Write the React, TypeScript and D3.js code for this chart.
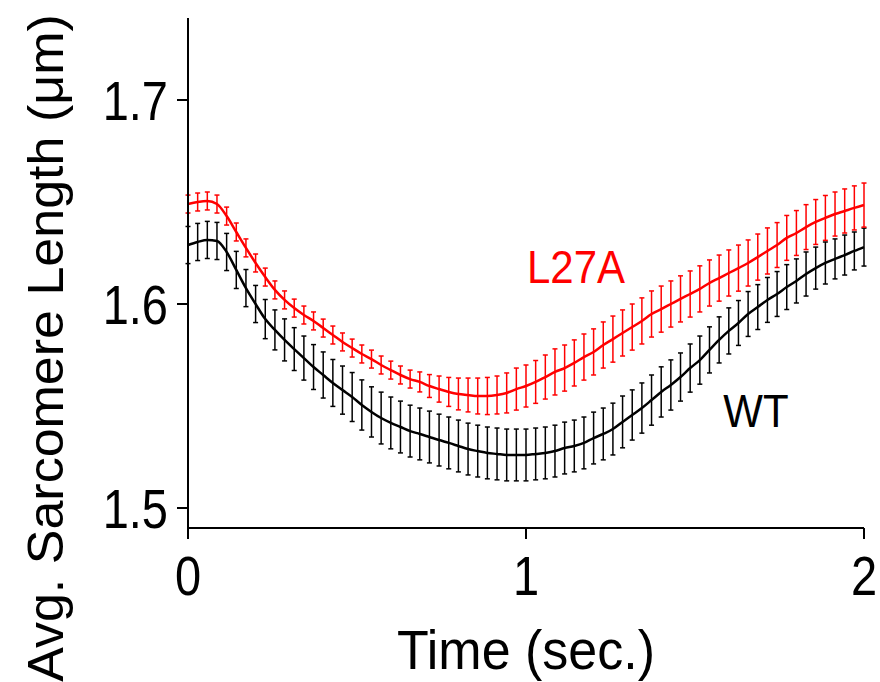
import React from "react";
import * as d3 from "d3";

// Time grid: 71 samples from 0 to 2 s
const nSamples = 71;
const tMax = 2;
const times: number[] = d3.range(nSamples).map((i) => (i * tMax) / (nSamples - 1));

const wtMean: number[] = [
  1.6289, 1.6304, 1.6314, 1.6309, 1.6255, 1.6167, 1.6078, 1.6, 1.5926, 1.5873,
  1.5824, 1.5779, 1.5735, 1.5691, 1.5652, 1.5613, 1.5578, 1.5544, 1.5505, 1.5471,
  1.5441, 1.5417, 1.5397, 1.5377, 1.5363, 1.5348, 1.5333, 1.5319, 1.5304, 1.5289,
  1.5279, 1.527, 1.5265, 1.526, 1.526, 1.526, 1.5265, 1.527, 1.5279, 1.5294,
  1.5304, 1.5319, 1.5343, 1.5363, 1.5387, 1.5422, 1.5456, 1.549, 1.5529, 1.5569,
  1.5603, 1.5642, 1.5686, 1.5725, 1.5775, 1.5824, 1.5868, 1.5907, 1.5951, 1.5985,
  1.602, 1.6049, 1.6083, 1.6113, 1.6147, 1.6176, 1.6201, 1.6221, 1.624, 1.626,
  1.6279,
];

const wtErr: number[] = [
  0.0091, 0.0091, 0.0091, 0.0091, 0.0091, 0.0091, 0.0091, 0.0091, 0.0096, 0.0098,
  0.0103, 0.0105, 0.0108, 0.011, 0.0113, 0.0115, 0.0118, 0.012, 0.0123, 0.0123,
  0.0127, 0.0127, 0.0127, 0.0127, 0.0127, 0.0127, 0.0127, 0.0127, 0.0127, 0.0127,
  0.0127, 0.0127, 0.0127, 0.0127, 0.0127, 0.0127, 0.0127, 0.0127, 0.0127, 0.0127,
  0.0127, 0.0127, 0.0127, 0.0127, 0.0127, 0.0127, 0.0123, 0.0123, 0.0123, 0.0123,
  0.0123, 0.0118, 0.0118, 0.0118, 0.0113, 0.0113, 0.0113, 0.011, 0.011, 0.011,
  0.011, 0.011, 0.011, 0.0108, 0.0108, 0.0103, 0.0103, 0.0098, 0.0098, 0.0093,
  0.0093,
];

const l27aMean: number[] = [
  1.649, 1.65, 1.6505, 1.649, 1.6431, 1.6353, 1.6275, 1.6201, 1.6132, 1.6069,
  1.602, 1.598, 1.5946, 1.5917, 1.5882, 1.5848, 1.5814, 1.5784, 1.5755, 1.573,
  1.5701, 1.5676, 1.5652, 1.5632, 1.5618, 1.5598, 1.5583, 1.5569, 1.5559, 1.5554,
  1.5549, 1.5549, 1.5554, 1.5564, 1.5583, 1.5598, 1.5618, 1.5642, 1.5667, 1.5686,
  1.5711, 1.574, 1.5765, 1.5799, 1.5828, 1.5858, 1.5887, 1.5917, 1.5951, 1.5975,
  1.6, 1.6025, 1.6049, 1.6074, 1.6103, 1.6127, 1.6152, 1.6176, 1.6201, 1.623,
  1.626, 1.6289, 1.6324, 1.6348, 1.6377, 1.6402, 1.6422, 1.6441, 1.6456, 1.6471,
  1.6485,
];

const l27aErr: number[] = [
  0.0044, 0.0044, 0.0044, 0.0044, 0.0044, 0.0044, 0.0044, 0.0044, 0.0044, 0.0044,
  0.0044, 0.0044, 0.0044, 0.0044, 0.0044, 0.0044, 0.0044, 0.0044, 0.0044, 0.0044,
  0.0044, 0.0044, 0.0044, 0.0044, 0.0049, 0.0056, 0.0064, 0.0071, 0.0078, 0.0083,
  0.0088, 0.0091, 0.0093, 0.0098, 0.0103, 0.0103, 0.0105, 0.0108, 0.0113, 0.0113,
  0.0113, 0.0113, 0.0113, 0.0113, 0.0113, 0.0113, 0.0113, 0.0113, 0.0113, 0.0113,
  0.0113, 0.0113, 0.0113, 0.0113, 0.0113, 0.0113, 0.0113, 0.0113, 0.0113, 0.0113,
  0.0113, 0.011, 0.011, 0.011, 0.011, 0.011, 0.011, 0.0108, 0.0108, 0.0108,
  0.0108,
];

const xTicks: number[] = [0, 1, 2];
const yTicks: number[] = [1.5, 1.6, 1.7];

const seriesNames: string[] = ["WT", "L27A"];
const seriesColors: string[] = ["#000000", "#ff0000"];

const FONT = "'Liberation Sans', Arial, Helvetica, sans-serif";

export default function App() {
  const W = 880;
  const H = 682;
  const x = d3.scaleLinear().domain([0, 2]).range([188, 864]);
  const y = d3.scaleLinear().domain([1.5, 1.7]).range([508, 100]);
  const yBottom = 528;
  const yTop = 18;

  const series = [
    { name: seriesNames[0], mean: wtMean, err: wtErr, color: seriesColors[0] },
    { name: seriesNames[1], mean: l27aMean, err: l27aErr, color: seriesColors[1] },
  ];

  const line = d3
    .line<number>()
    .x((_, i) => x(times[i]))
    .y((d) => y(d))
    .curve(d3.curveMonotoneX);

  const cap = 2.5;

  return (
    <svg
      width={W}
      height={H}
      style={{ position: "absolute", left: 0, top: 0, background: "#fff" }}
    >
      <rect x={0} y={0} width={W} height={H} fill="#fff" />
      {series.map((s) => (
        <g key={s.name}>
          {s.mean.map((m, i) => {
            const cx = x(times[i]);
            const y1 = y(m + s.err[i]);
            const y2 = y(m - s.err[i]);
            return (
              <g key={i} stroke={s.color} strokeWidth={1.5}>
                <line x1={cx} x2={cx} y1={y1} y2={y2} />
                <line x1={cx - cap} x2={cx + cap} y1={y1} y2={y1} />
                <line x1={cx - cap} x2={cx + cap} y1={y2} y2={y2} />
              </g>
            );
          })}
          <path d={line(s.mean) || ""} fill="none" stroke={s.color} strokeWidth={2.5} />
        </g>
      ))}

      {/* Axes */}
      <g stroke="#000" strokeWidth={2} fill="none">
        <line x1={x(0)} x2={x(0)} y1={yTop} y2={yBottom} />
        <line x1={x(0)} x2={x(2)} y1={yBottom} y2={yBottom} />
        {yTicks.map((t) => (
          <line key={t} x1={x(0) - 11} x2={x(0)} y1={y(t)} y2={y(t)} />
        ))}
        {xTicks.map((t) => (
          <line key={t} x1={x(t)} x2={x(t)} y1={yBottom} y2={yBottom + 11} />
        ))}
      </g>
      <g fontFamily={FONT} fontSize={47} fill="#000">
        {yTicks.map((t) => (
          <text
            key={t}
            transform={`translate(${x(0) - 20}, ${y(t) + 20}) scale(1, 1.2)`}
            textAnchor="end"
          >
            {t.toFixed(1)}
          </text>
        ))}
        {xTicks.map((t) => (
          <text
            key={t}
            transform={`translate(${x(t)}, 595) scale(1, 1.2)`}
            textAnchor="middle"
          >
            {String(t)}
          </text>
        ))}
      </g>
      <text
        transform="translate(526, 669) scale(1, 1.08)"
        textAnchor="middle"
        fontFamily={FONT}
        fontSize={52}
        fill="#000"
      >
        Time (sec.)
      </text>
      <text
        transform={`translate(63, 348) rotate(-90) scale(1.04, 1)`}
        textAnchor="middle"
        fontFamily={FONT}
        fontSize={50}
        fill="#000"
      >
        Avg. Sarcomere Length (μm)
      </text>
      <text
        transform="translate(576, 283) scale(1, 1.1)"
        textAnchor="middle"
        fontFamily={FONT}
        fontSize={42}
        fill="#ff0000"
      >
        L27A
      </text>
      <text
        transform="translate(756, 427) scale(1, 1.1)"
        textAnchor="middle"
        fontFamily={FONT}
        fontSize={42}
        fill="#000"
      >
        WT
      </text>
    </svg>
  );
}
